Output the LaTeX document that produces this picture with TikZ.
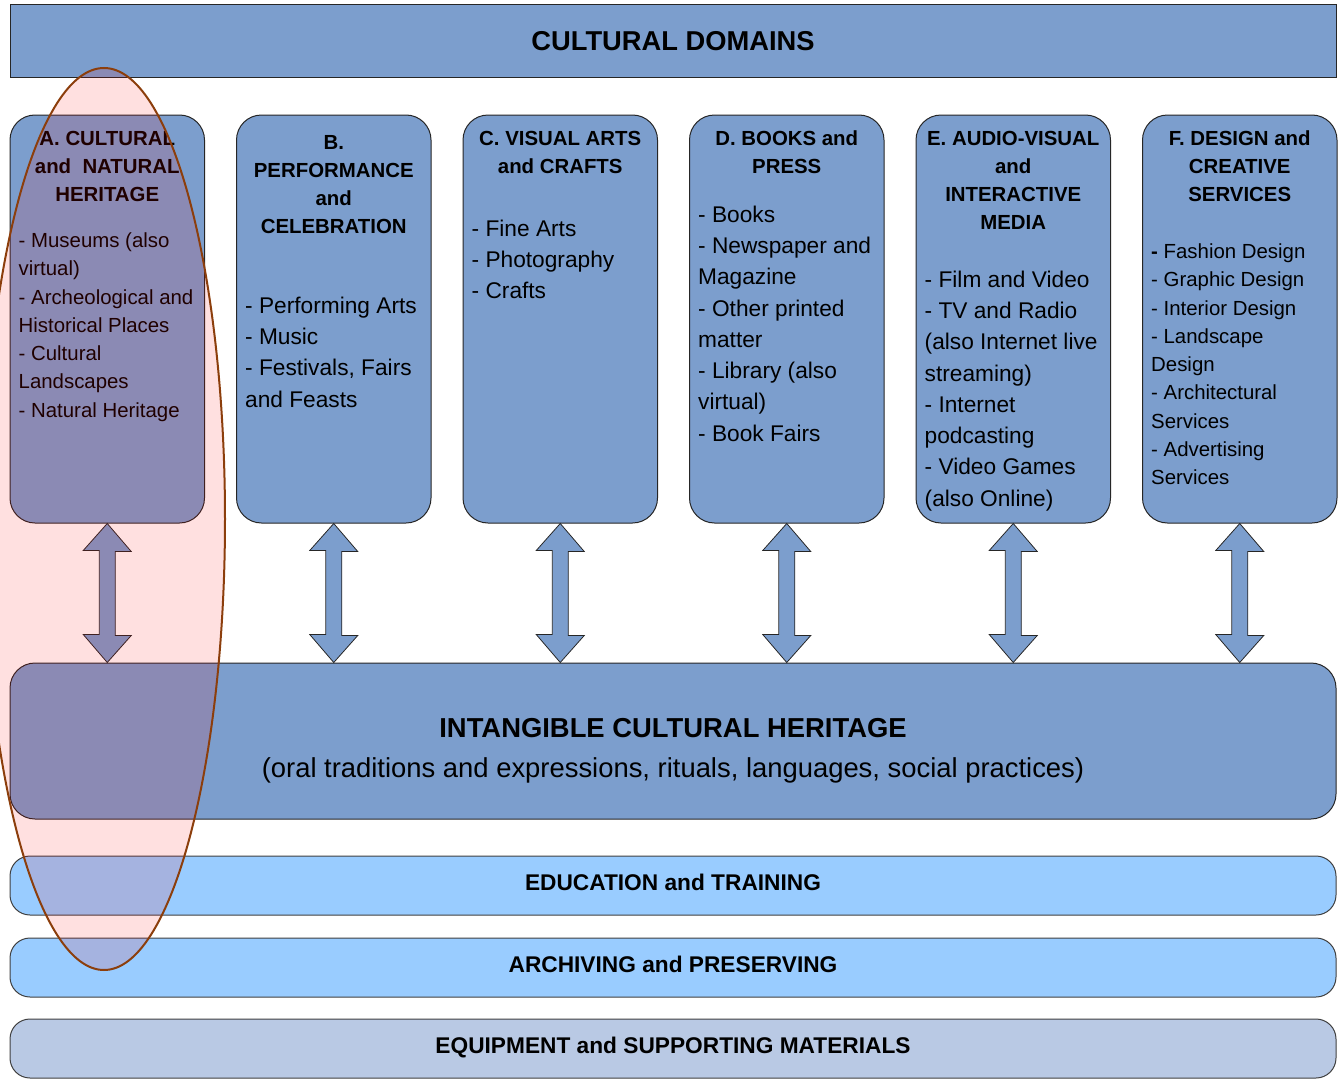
\documentclass[tikz,border=0pt]{standalone}
\usepackage{fontspec}
\setmainfont{Liberation Sans}
\usetikzlibrary{positioning}

\definecolor{domainblue}{RGB}{124,158,205}
\definecolor{bandblue}{RGB}{153,204,255}
\definecolor{bandgray}{RGB}{185,201,228}
\definecolor{ovalbrown}{RGB}{140,62,12}

\begin{document}
\begin{tikzpicture}[x=1pt,y=-1pt,
    domainbox/.style={draw=black!85,line width=1pt,fill=domainblue,rounded corners=25pt,
                   minimum width=194.5pt,minimum height=408pt,inner sep=0pt},
    band/.style={draw=black!75,line width=1pt,rounded corners=20pt,minimum width=1326pt,
                 minimum height=59pt,text depth=6pt,font=\fontsize{22.7}{26}\selectfont\bfseries},
    head/.style={anchor=north,align=center,inner sep=0pt,font=\fontsize{20.4}{28}\selectfont\bfseries},
    items/.style={anchor=north west,align=left,inner sep=0pt,font=\fontsize{22.7}{31.3}\selectfont},
    smallitems/.style={items,font=\fontsize{20.4}{28.3}\selectfont},
    dblarrow/.style={draw=black!85,line width=.8pt,fill=domainblue,line join=miter},
    oval/.style={draw=ovalbrown,line width=2pt,fill=red,fill opacity=.12}
]
\useasboundingbox (0,0) rectangle (1339,1081);

%-------------------------------------------- Title bar
\node[draw=black!85,line width=1pt,fill=domainblue,minimum width=1326pt,minimum height=73pt,
      font=\fontsize{27.3}{30}\selectfont\bfseries] (domains) at (673,41.5) {CULTURAL DOMAINS};

%-------------------------------------------- Domain columns
\node[domainbox] (a) at (107.25,319) {};
\node[domainbox,right=31pt of a] (b) {};
\node[domainbox,right=31pt of b] (c) {};
\node[domainbox,right=31pt of c] (d) {};
\node[domainbox,right=31pt of d] (e) {};
\node[domainbox,right=31pt of e] (f) {};

% A
\node[head] at ([yshift=-16.5pt]a.north) {A. CULTURAL\\and~~NATURAL\\HERITAGE};
\node[smallitems] at ([xshift=9pt,yshift=-118pt]a.north west)
    {- Museums (also\\virtual)\\- Archeological and\\Historical Places\\- Cultural\\Landscapes\\- Natural Heritage};
% B
\node[head] at ([yshift=-20.5pt]b.north) {B.\\PERFORMANCE\\and\\CELEBRATION};
\node[items] at ([xshift=9pt,yshift=-182pt]b.north west)
    {- Performing Arts\\- Music\\- Festivals, Fairs\\and Feasts};
% C
\node[head] at ([yshift=-16.5pt]c.north) {C. VISUAL ARTS\\and CRAFTS};
\node[items] at ([xshift=9pt,yshift=-105pt]c.north west)
    {- Fine Arts\\- Photography\\- Crafts};
% D
\node[head] at ([yshift=-16.5pt]d.north) {D. BOOKS and\\PRESS};
\node[items] at ([xshift=9pt,yshift=-91pt]d.north west)
    {- Books\\- Newspaper and\\Magazine\\- Other printed\\matter\\- Library (also\\virtual)\\- Book Fairs};
% E
\node[head] at ([yshift=-16.5pt]e.north) {E. AUDIO-VISUAL\\and\\INTERACTIVE\\MEDIA};
\node[items] at ([xshift=9pt,yshift=-156pt]e.north west)
    {- Film and Video\\- TV and Radio\\(also Internet live\\streaming)\\- Internet\\podcasting\\- Video Games\\(also Online)};
% F
\node[head] at ([yshift=-16.5pt]f.north) {F. DESIGN and\\CREATIVE\\SERVICES};
\node[smallitems] at ([xshift=9pt,yshift=-129pt]f.north west)
    {\textbf{-} Fashion Design\\- Graphic Design\\- Interior Design\\- Landscape\\Design\\- Architectural\\Services\\- Advertising\\Services};

%-------------------------------------------- Intangible heritage
\node[domainbox,minimum width=1326pt,minimum height=156pt] (ich) at (673,741) {};
\node[align=center,font=\fontsize{27.4}{40}\selectfont] at ([yshift=-10pt]ich.center)
    {\textbf{INTANGIBLE CULTURAL HERITAGE}\\(oral traditions and expressions, rituals, languages, social practices)};

% Double arrows between columns and intangible heritage
\foreach \col in {a,b,c,d,e,f}
  \draw[dblarrow] (\col.south) -- ++(24,28) -- ++(-16,0) -- ++(0,84) -- ++(16,0)
     -- (\col.south |- ich.north) -- ++(-24,-28) -- ++(16,0) -- ++(0,-84) -- ++(-16,0) -- cycle;

%-------------------------------------------- Transversal bands
\node[band,fill=bandblue] (edu) at (673,885.5) {EDUCATION and TRAINING};
\node[band,fill=bandblue] (arch) at (673,967.5) {ARCHIVING and PRESERVING};
\node[band,fill=bandgray] (equip) at (673,1048.5) {EQUIPMENT and SUPPORTING MATERIALS};

%-------------------------------------------- Highlight oval
\draw[oval] (104,519) ellipse [x radius=121pt,y radius=451pt];

\end{tikzpicture}
\end{document}
